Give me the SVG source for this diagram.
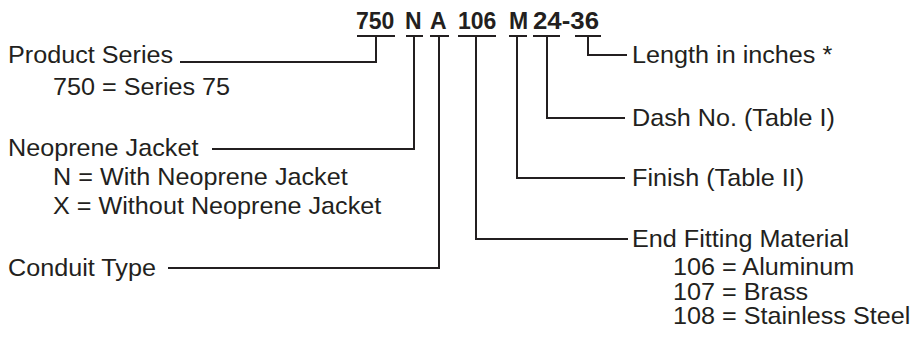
<svg xmlns="http://www.w3.org/2000/svg" width="916" height="342" viewBox="0 0 916 342">
<style>
  .t { font-family: "Liberation Sans", Arial, sans-serif; font-size: 24px; fill: #231f20; }
  .h { font-family: "Liberation Sans", Arial, sans-serif; font-size: 23px; font-weight: bold; fill: #231f20; }
  .ln { fill: none; stroke: #231f20; stroke-width: 2; stroke-linecap: butt; stroke-linejoin: miter; }
</style>
<rect width="916" height="342" fill="#ffffff"/>
<g id="part-number">
  <text class="h" x="356" y="29">750</text>
  <text class="h" x="405" y="29">N</text>
  <text class="h" x="430" y="29">A</text>
  <text class="h" x="458" y="29">106</text>
  <text class="h" x="509" y="29">M</text>
  <text class="h" x="533" y="29" textLength="66" lengthAdjust="spacingAndGlyphs">24-36</text>
</g>
<g id="connectors">
  <path class="ln" d="M357 36H395M376 36V62H180"/>
  <path class="ln" d="M406 36H423M414 36V149H212"/>
  <path class="ln" d="M430 36H449M439 36V268H168"/>
  <path class="ln" d="M458 36H496M476 36V239H628"/>
  <path class="ln" d="M509 36H527M517 36V178H625"/>
  <path class="ln" d="M533 36H560M547 36V118H625"/>
  <path class="ln" d="M575 36H601M588 36V55H627"/>
</g>
<g id="product-series">
  <text class="t" transform="translate(8 63) scale(1.05 1)">Product Series</text>
  <text class="t" transform="translate(53 95) scale(1.05 1)">750 = Series 75</text>
</g>
<g id="neoprene-jacket">
  <text class="t" transform="translate(8 156) scale(1.05 1)">Neoprene Jacket</text>
  <text class="t" transform="translate(53 185) scale(1.05 1)">N = With Neoprene Jacket</text>
  <text class="t" transform="translate(53 214) scale(1.05 1)">X = Without Neoprene Jacket</text>
</g>
<g id="conduit-type">
  <text class="t" transform="translate(8 276) scale(1.05 1)">Conduit Type</text>
</g>
<g id="length">
  <text class="t" transform="translate(632 63) scale(1.05 1)">Length in inches *</text>
</g>
<g id="dash-no">
  <text class="t" transform="translate(632 126) scale(1.05 1)">Dash No. (Table I)</text>
</g>
<g id="finish">
  <text class="t" transform="translate(632 186) scale(1.05 1)">Finish (Table II)</text>
</g>
<g id="end-fitting">
  <text class="t" transform="translate(632 247) scale(1.05 1)">End Fitting Material</text>
  <text class="t" transform="translate(673 275) scale(1.05 1)">106 = Aluminum</text>
  <text class="t" transform="translate(673 300) scale(1.05 1)">107 = Brass</text>
  <text class="t" transform="translate(673 324) scale(1.05 1)">108 = Stainless Steel</text>
</g>
</svg>
